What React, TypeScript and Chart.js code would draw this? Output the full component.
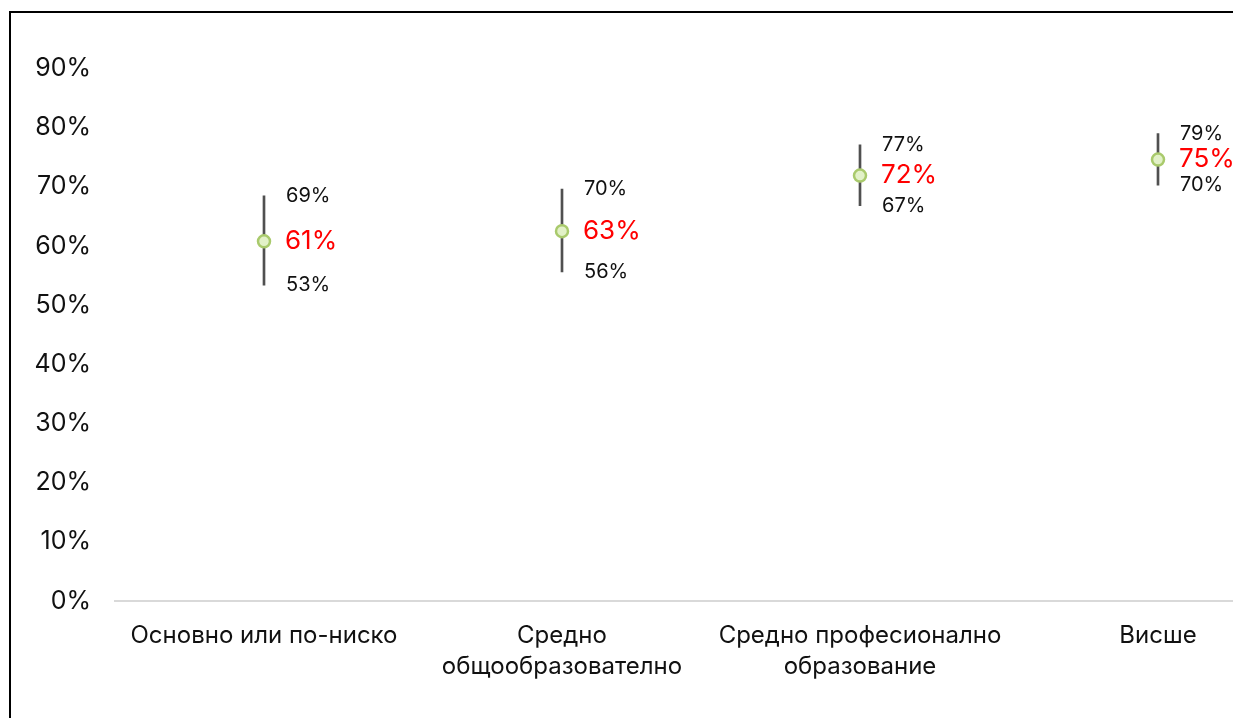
import React, { useEffect, useRef } from "react";
import { Chart, registerables } from "chart.js";

Chart.register(...registerables);

const categories: (string | string[])[] = [
  "Основно или по-ниско",
  ["Средно", "общообразователно"],
  ["Средно професионално", "образование"],
  "Висше",
];
const means = [0.608, 0.625, 0.719, 0.746];
const lows = [0.534, 0.556, 0.668, 0.703];
const highs = [0.685, 0.696, 0.771, 0.79];
const yTicksMax = 0.9;

const FONT = "Inter, 'Noto Sans', sans-serif";
const pct = (v: number) => Math.round(v * 100) + "%";

const labelPlugin = {
  id: "errLabels",
  afterDatasetsDraw(chart: any) {
    const ctx = chart.ctx;
    const xs = chart.scales.x;
    const ys = chart.scales.y;
    ctx.save();
    ctx.textAlign = "left";
    ctx.textBaseline = "middle";
    means.forEach((m, i) => {
      const x = xs.getPixelForValue(i) + 22;
      ctx.fillStyle = "#111";
      ctx.font = `20px ${FONT}`;
      ctx.fillText(pct(highs[i]), x, ys.getPixelForValue(highs[i]));
      ctx.fillText(pct(lows[i]), x, ys.getPixelForValue(lows[i]));
      ctx.fillStyle = "#ff0000";
      ctx.font = `26px ${FONT}`;
      ctx.fillText(pct(m), x - 1, ys.getPixelForValue(m));
    });
    ctx.restore();
  },
};

export default function App() {
  const ref = useRef<HTMLCanvasElement>(null);
  useEffect(() => {
    const chart = new Chart(ref.current!, {
      type: "bar",
      data: {
        labels: categories,
        datasets: [
          {
            type: "bar",
            data: lows.map((l, i) => [l, highs[i]]) as any,
            backgroundColor: "#505050",
            borderWidth: 0,
            barThickness: 2,
            grouped: false,
            order: 2,
          },
          {
            type: "line",
            data: means,
            showLine: false,
            pointRadius: 6,
            pointBackgroundColor: "#e2f1c8",
            pointBorderColor: "#a9ca6c",
            pointBorderWidth: 2.5,
            order: 1,
          } as any,
        ],
      },
      options: {
        responsive: false,
        animation: false,
        layout: { padding: { top: 55.5, right: 14, left: 0, bottom: 0 } },
        plugins: {
          legend: { display: false },
          tooltip: { enabled: false },
        },
        scales: {
          x: {
            offset: true,
            grid: { display: false, drawTicks: false },
            border: { display: true, color: "#d9d9d9", width: 2 },
            ticks: {
              padding: 19,
              maxRotation: 0,
              autoSkip: false,
              color: "#111",
              font: { family: FONT, size: 24, lineHeight: 1.3 },
            },
            afterFit: (s: any) => {
              s.height = 172;
            },
          },
          y: {
            min: 0,
            max: yTicksMax,
            grid: { display: false, drawTicks: false },
            border: { display: false },
            ticks: {
              stepSize: 0.1,
              padding: 24,
              color: "#111",
              font: { family: FONT, size: 25 },
              callback: (v: any) => pct(Number(v)),
            },
            afterFit: (s: any) => {
              s.width = 104;
            },
          },
        },
      },
      plugins: [labelPlugin],
    });
    return () => chart.destroy();
  }, []);
  return (
    <div style={{ position: "fixed", inset: 0, overflow: "hidden", background: "#fff" }}>
      <div
        style={{
          position: "absolute",
          left: 9,
          top: 11,
          border: "2px solid #000",
          width: 1310,
          height: 760,
        }}
      >
        <canvas ref={ref} width={1310} height={760} style={{ display: "block" }} />
      </div>
    </div>
  );
}
